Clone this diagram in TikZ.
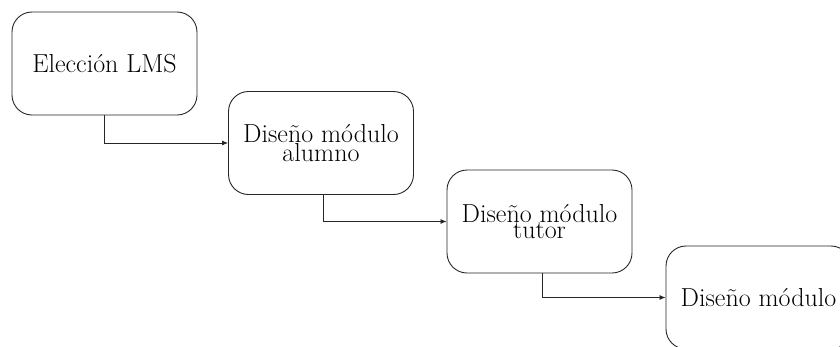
\documentclass[tikz,border=0pt]{standalone}
\usetikzlibrary{arrows.meta}
\tikzset{
  stage/.style={draw=black!85, line width=0.9pt, rounded corners=20pt, rectangle,
    minimum width=185pt, minimum height=103pt, inner sep=0pt, align=center,
    font=\fontsize{26}{16.5}\selectfont},
  link/.style={draw=black!85, line width=0.8pt, -{Latex[length=6pt,width=5pt]}}
}
\begin{document}
\begin{tikzpicture}[x=1pt,y=-1pt]
\useasboundingbox (0,0) rectangle (840,346);
\node[stage] (b1) at (104.5,63.5) {Elección LMS};
\node[stage] (b2) at (321,143) {Diseño módulo\\alumno};
\node[stage] (b3) at (539.5,221.5) {Diseño módulo\\tutor};
\node[stage] (b4) at (758.5,297.5) {Diseño módulo};
\draw[link] (b1.south) |- (b2.west);
\draw[link] ([xshift=2pt]b2.south) |- (b3.west);
\draw[link] ([xshift=3pt]b3.south) |- (b4.west);
\end{tikzpicture}
\end{document}
